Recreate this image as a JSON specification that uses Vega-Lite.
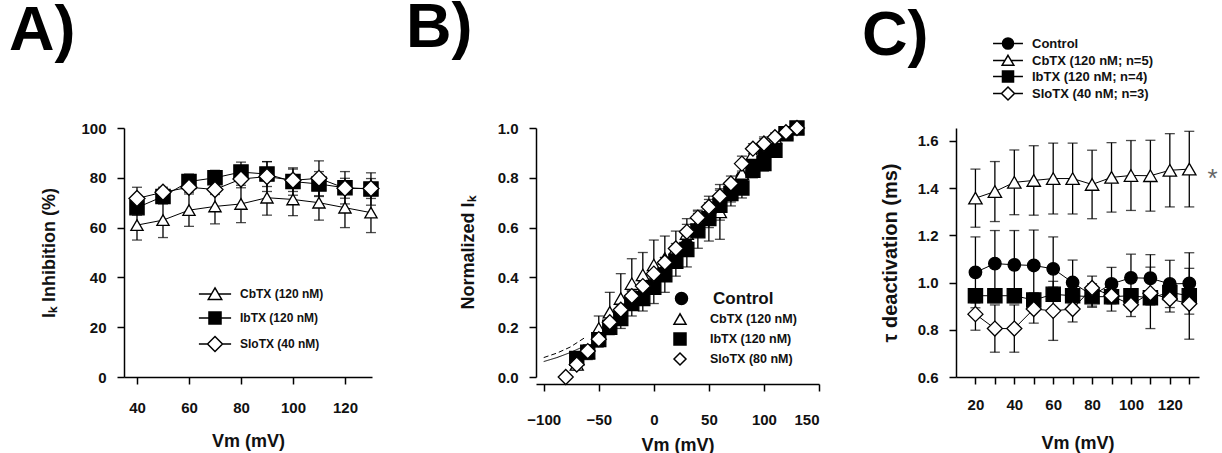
{
  "$schema": "https://vega.github.io/schema/vega-lite/v6.json",
  "autosize": {"type": "none"},
  "padding": {"left": 124, "top": 128, "right": 1098, "bottom": 325},
  "background": "white",
  "config": {
    "font": "Liberation Sans",
    "view": {"stroke": null},
    "axis": {"grid": false, "domainColor": "#000", "domainWidth": 1.5, "tickColor": "#000", "tickWidth": 1.5, "tickSize": 7, "labelFont": "Liberation Sans", "labelFontSize": 15, "labelFontWeight": "bold", "labelColor": "#111", "labelPadding": 11, "titleFont": "Liberation Sans", "titleFontSize": 18, "titleFontWeight": "bold", "titleColor": "#111"},
    "legend": {"labelFont": "Liberation Sans", "labelFontWeight": "bold", "labelColor": "#111", "symbolOpacity": 1},
    "title": {"font": "Liberation Sans", "fontSize": 63, "fontWeight": "bold", "color": "#000", "anchor": "start", "frame": "group", "baseline": "alphabetic"}
  },
  "datasets": {
    "A": [
      {"series": "CbTX (120 nM)", "x": 40, "y": 61, "err": 6},
      {"series": "CbTX (120 nM)", "x": 50, "y": 63, "err": 7},
      {"series": "CbTX (120 nM)", "x": 60, "y": 67, "err": 6.5},
      {"series": "CbTX (120 nM)", "x": 70, "y": 68.5, "err": 7},
      {"series": "CbTX (120 nM)", "x": 80, "y": 69.5, "err": 7.5},
      {"series": "CbTX (120 nM)", "x": 90, "y": 72, "err": 7},
      {"series": "CbTX (120 nM)", "x": 100, "y": 71.3, "err": 6.5},
      {"series": "CbTX (120 nM)", "x": 110, "y": 70, "err": 7},
      {"series": "CbTX (120 nM)", "x": 120, "y": 68, "err": 8},
      {"series": "CbTX (120 nM)", "x": 130, "y": 66, "err": 8},
      {"series": "IbTX (120 nM)", "x": 40, "y": 68, "err": 3},
      {"series": "IbTX (120 nM)", "x": 50, "y": 72.5, "err": 3},
      {"series": "IbTX (120 nM)", "x": 60, "y": 78.5, "err": 3},
      {"series": "IbTX (120 nM)", "x": 70, "y": 80, "err": 3},
      {"series": "IbTX (120 nM)", "x": 80, "y": 82.3, "err": 4},
      {"series": "IbTX (120 nM)", "x": 90, "y": 81.5, "err": 5},
      {"series": "IbTX (120 nM)", "x": 100, "y": 78.5, "err": 5.5},
      {"series": "IbTX (120 nM)", "x": 110, "y": 77.5, "err": 5},
      {"series": "IbTX (120 nM)", "x": 120, "y": 76, "err": 6.5},
      {"series": "IbTX (120 nM)", "x": 130, "y": 75.5, "err": 6.5},
      {"series": "SloTX (40 nM)", "x": 40, "y": 71.7, "err": 4.5},
      {"series": "SloTX (40 nM)", "x": 50, "y": 74.2, "err": 2},
      {"series": "SloTX (40 nM)", "x": 60, "y": 76.2, "err": 2},
      {"series": "SloTX (40 nM)", "x": 70, "y": 75.3, "err": 2},
      {"series": "SloTX (40 nM)", "x": 80, "y": 79.5, "err": 3.5},
      {"series": "SloTX (40 nM)", "x": 90, "y": 80.5, "err": 6},
      {"series": "SloTX (40 nM)", "x": 100, "y": 79, "err": 4.5},
      {"series": "SloTX (40 nM)", "x": 110, "y": 79.8, "err": 7},
      {"series": "SloTX (40 nM)", "x": 120, "y": 75.8, "err": 4},
      {"series": "SloTX (40 nM)", "x": 130, "y": 75.7, "err": 4}
    ],
    "B": [
      {"series": "Control", "x": -70, "y": 0.06, "err": 0.02},
      {"series": "Control", "x": -60, "y": 0.1, "err": 0.02},
      {"series": "Control", "x": -50, "y": 0.16, "err": 0.02},
      {"series": "Control", "x": -40, "y": 0.2, "err": 0.02},
      {"series": "Control", "x": -30, "y": 0.245, "err": 0.02},
      {"series": "Control", "x": -20, "y": 0.3, "err": 0.02},
      {"series": "Control", "x": -10, "y": 0.33, "err": 0.02},
      {"series": "Control", "x": 0, "y": 0.37, "err": 0.02},
      {"series": "Control", "x": 10, "y": 0.42, "err": 0.02},
      {"series": "Control", "x": 20, "y": 0.47, "err": 0.02},
      {"series": "Control", "x": 30, "y": 0.53, "err": 0.02},
      {"series": "Control", "x": 40, "y": 0.59, "err": 0.02},
      {"series": "Control", "x": 50, "y": 0.65, "err": 0.02},
      {"series": "Control", "x": 60, "y": 0.7, "err": 0.02},
      {"series": "Control", "x": 70, "y": 0.75, "err": 0.02},
      {"series": "Control", "x": 80, "y": 0.8, "err": 0.02},
      {"series": "Control", "x": 90, "y": 0.86, "err": 0.02},
      {"series": "Control", "x": 100, "y": 0.9, "err": 0.02},
      {"series": "Control", "x": 110, "y": 0.92, "err": 0.02},
      {"series": "Control", "x": 120, "y": 0.98, "err": 0.01},
      {"series": "Control", "x": 130, "y": 1.0, "err": 0},
      {"series": "CbTX (120 nM)", "x": -70, "y": 0.05, "err": 0.02},
      {"series": "CbTX (120 nM)", "x": -60, "y": 0.1, "err": 0.02},
      {"series": "CbTX (120 nM)", "x": -50, "y": 0.195, "err": 0.05},
      {"series": "CbTX (120 nM)", "x": -40, "y": 0.26, "err": 0.08},
      {"series": "CbTX (120 nM)", "x": -30, "y": 0.315, "err": 0.1},
      {"series": "CbTX (120 nM)", "x": -20, "y": 0.375, "err": 0.1},
      {"series": "CbTX (120 nM)", "x": -10, "y": 0.41, "err": 0.09},
      {"series": "CbTX (120 nM)", "x": 0, "y": 0.45, "err": 0.1},
      {"series": "CbTX (120 nM)", "x": 10, "y": 0.476, "err": 0.09},
      {"series": "CbTX (120 nM)", "x": 20, "y": 0.516, "err": 0.07},
      {"series": "CbTX (120 nM)", "x": 30, "y": 0.576, "err": 0.06},
      {"series": "CbTX (120 nM)", "x": 40, "y": 0.616, "err": 0.05},
      {"series": "CbTX (120 nM)", "x": 50, "y": 0.65, "err": 0.05},
      {"series": "CbTX (120 nM)", "x": 60, "y": 0.663, "err": 0.11},
      {"series": "CbTX (120 nM)", "x": 70, "y": 0.743, "err": 0.04},
      {"series": "CbTX (120 nM)", "x": 80, "y": 0.817, "err": 0.04},
      {"series": "CbTX (120 nM)", "x": 90, "y": 0.897, "err": 0.03},
      {"series": "CbTX (120 nM)", "x": 100, "y": 0.944, "err": 0.02},
      {"series": "CbTX (120 nM)", "x": 110, "y": 0.96, "err": 0.02},
      {"series": "CbTX (120 nM)", "x": 120, "y": 0.98, "err": 0.01},
      {"series": "CbTX (120 nM)", "x": 130, "y": 1.0, "err": 0},
      {"series": "IbTX (120 nM)", "x": -70, "y": 0.075, "err": 0.02},
      {"series": "IbTX (120 nM)", "x": -60, "y": 0.1, "err": 0.03},
      {"series": "IbTX (120 nM)", "x": -50, "y": 0.15, "err": 0.03},
      {"series": "IbTX (120 nM)", "x": -40, "y": 0.2, "err": 0.03},
      {"series": "IbTX (120 nM)", "x": -30, "y": 0.235, "err": 0.04},
      {"series": "IbTX (120 nM)", "x": -20, "y": 0.295, "err": 0.05},
      {"series": "IbTX (120 nM)", "x": -10, "y": 0.315, "err": 0.05},
      {"series": "IbTX (120 nM)", "x": 0, "y": 0.36, "err": 0.065},
      {"series": "IbTX (120 nM)", "x": 10, "y": 0.41, "err": 0.07},
      {"series": "IbTX (120 nM)", "x": 20, "y": 0.465, "err": 0.06},
      {"series": "IbTX (120 nM)", "x": 30, "y": 0.512, "err": 0.07},
      {"series": "IbTX (120 nM)", "x": 40, "y": 0.587, "err": 0.07},
      {"series": "IbTX (120 nM)", "x": 50, "y": 0.636, "err": 0.09},
      {"series": "IbTX (120 nM)", "x": 60, "y": 0.69, "err": 0.06},
      {"series": "IbTX (120 nM)", "x": 70, "y": 0.737, "err": 0.05},
      {"series": "IbTX (120 nM)", "x": 80, "y": 0.759, "err": 0.04},
      {"series": "IbTX (120 nM)", "x": 90, "y": 0.83, "err": 0.03},
      {"series": "IbTX (120 nM)", "x": 100, "y": 0.857, "err": 0.03},
      {"series": "IbTX (120 nM)", "x": 110, "y": 0.91, "err": 0.02},
      {"series": "IbTX (120 nM)", "x": 120, "y": 0.977, "err": 0.01},
      {"series": "IbTX (120 nM)", "x": 130, "y": 1.0, "err": 0},
      {"series": "SloTX (80 nM)", "x": -80, "y": 0.0, "err": 0},
      {"series": "SloTX (80 nM)", "x": -70, "y": 0.05, "err": 0.02},
      {"series": "SloTX (80 nM)", "x": -60, "y": 0.104, "err": 0.02},
      {"series": "SloTX (80 nM)", "x": -50, "y": 0.152, "err": 0.02},
      {"series": "SloTX (80 nM)", "x": -40, "y": 0.22, "err": 0.02},
      {"series": "SloTX (80 nM)", "x": -30, "y": 0.27, "err": 0.02},
      {"series": "SloTX (80 nM)", "x": -20, "y": 0.325, "err": 0.02},
      {"series": "SloTX (80 nM)", "x": -10, "y": 0.365, "err": 0.02},
      {"series": "SloTX (80 nM)", "x": 0, "y": 0.415, "err": 0.02},
      {"series": "SloTX (80 nM)", "x": 10, "y": 0.46, "err": 0.02},
      {"series": "SloTX (80 nM)", "x": 20, "y": 0.516, "err": 0.02},
      {"series": "SloTX (80 nM)", "x": 30, "y": 0.583, "err": 0.03},
      {"series": "SloTX (80 nM)", "x": 40, "y": 0.64, "err": 0.03},
      {"series": "SloTX (80 nM)", "x": 50, "y": 0.683, "err": 0.03},
      {"series": "SloTX (80 nM)", "x": 60, "y": 0.726, "err": 0.03},
      {"series": "SloTX (80 nM)", "x": 70, "y": 0.777, "err": 0.03},
      {"series": "SloTX (80 nM)", "x": 80, "y": 0.857, "err": 0.03},
      {"series": "SloTX (80 nM)", "x": 90, "y": 0.917, "err": 0.02},
      {"series": "SloTX (80 nM)", "x": 100, "y": 0.937, "err": 0.02},
      {"series": "SloTX (80 nM)", "x": 110, "y": 0.963, "err": 0.01},
      {"series": "SloTX (80 nM)", "x": 120, "y": 0.983, "err": 0.01},
      {"series": "SloTX (80 nM)", "x": 130, "y": 1.0, "err": 0}
    ],
    "Bfit": [
      {"fit": "fit1", "x": -100, "y": 0.062},
      {"fit": "fit1", "x": -88, "y": 0.078},
      {"fit": "fit1", "x": -76, "y": 0.098},
      {"fit": "fit1", "x": -64, "y": 0.122},
      {"fit": "fit2", "x": -100, "y": 0.078},
      {"fit": "fit2", "x": -88, "y": 0.096},
      {"fit": "fit2", "x": -76, "y": 0.12},
      {"fit": "fit2", "x": -62, "y": 0.16}
    ],
    "C": [
      {"series": "Control", "x": 20, "y": 1.043, "err": 0.15},
      {"series": "Control", "x": 30, "y": 1.08, "err": 0.14},
      {"series": "Control", "x": 40, "y": 1.075, "err": 0.145},
      {"series": "Control", "x": 50, "y": 1.072, "err": 0.15},
      {"series": "Control", "x": 60, "y": 1.058, "err": 0.135},
      {"series": "Control", "x": 70, "y": 1.0, "err": 0.095},
      {"series": "Control", "x": 80, "y": 0.945, "err": 0.05},
      {"series": "Control", "x": 90, "y": 0.994, "err": 0.07},
      {"series": "Control", "x": 100, "y": 1.02, "err": 0.1},
      {"series": "Control", "x": 110, "y": 1.018, "err": 0.1},
      {"series": "Control", "x": 120, "y": 0.994, "err": 0.1},
      {"series": "Control", "x": 130, "y": 0.996, "err": 0.13},
      {"series": "CbTX (120 nM; n=5)", "x": 20, "y": 1.357, "err": 0.123},
      {"series": "CbTX (120 nM; n=5)", "x": 30, "y": 1.385, "err": 0.127},
      {"series": "CbTX (120 nM; n=5)", "x": 40, "y": 1.424, "err": 0.137},
      {"series": "CbTX (120 nM; n=5)", "x": 50, "y": 1.432, "err": 0.147},
      {"series": "CbTX (120 nM; n=5)", "x": 60, "y": 1.44, "err": 0.15},
      {"series": "CbTX (120 nM; n=5)", "x": 70, "y": 1.44, "err": 0.15},
      {"series": "CbTX (120 nM; n=5)", "x": 80, "y": 1.415, "err": 0.145},
      {"series": "CbTX (120 nM; n=5)", "x": 90, "y": 1.445, "err": 0.147},
      {"series": "CbTX (120 nM; n=5)", "x": 100, "y": 1.453, "err": 0.148},
      {"series": "CbTX (120 nM; n=5)", "x": 110, "y": 1.452, "err": 0.15},
      {"series": "CbTX (120 nM; n=5)", "x": 120, "y": 1.475, "err": 0.155},
      {"series": "CbTX (120 nM; n=5)", "x": 130, "y": 1.48, "err": 0.16},
      {"series": "IbTX (120 nM; n=4)", "x": 20, "y": 0.944, "err": 0.03},
      {"series": "IbTX (120 nM; n=4)", "x": 30, "y": 0.944, "err": 0.03},
      {"series": "IbTX (120 nM; n=4)", "x": 40, "y": 0.944, "err": 0.03},
      {"series": "IbTX (120 nM; n=4)", "x": 50, "y": 0.926, "err": 0.03},
      {"series": "IbTX (120 nM; n=4)", "x": 60, "y": 0.95, "err": 0.03},
      {"series": "IbTX (120 nM; n=4)", "x": 70, "y": 0.944, "err": 0.03},
      {"series": "IbTX (120 nM; n=4)", "x": 80, "y": 0.94, "err": 0.04},
      {"series": "IbTX (120 nM; n=4)", "x": 90, "y": 0.94, "err": 0.03},
      {"series": "IbTX (120 nM; n=4)", "x": 100, "y": 0.944, "err": 0.03},
      {"series": "IbTX (120 nM; n=4)", "x": 110, "y": 0.935, "err": 0.13},
      {"series": "IbTX (120 nM; n=4)", "x": 120, "y": 0.958, "err": 0.04},
      {"series": "IbTX (120 nM; n=4)", "x": 130, "y": 0.944, "err": 0.03},
      {"series": "SloTX (40 nM; n=3)", "x": 20, "y": 0.866, "err": 0.068},
      {"series": "SloTX (40 nM; n=3)", "x": 30, "y": 0.805, "err": 0.1},
      {"series": "SloTX (40 nM; n=3)", "x": 40, "y": 0.805, "err": 0.1},
      {"series": "SloTX (40 nM; n=3)", "x": 50, "y": 0.888, "err": 0.06},
      {"series": "SloTX (40 nM; n=3)", "x": 60, "y": 0.88, "err": 0.125},
      {"series": "SloTX (40 nM; n=3)", "x": 70, "y": 0.888, "err": 0.055},
      {"series": "SloTX (40 nM; n=3)", "x": 80, "y": 0.977, "err": 0.05},
      {"series": "SloTX (40 nM; n=3)", "x": 90, "y": 0.944, "err": 0.065},
      {"series": "SloTX (40 nM; n=3)", "x": 100, "y": 0.906, "err": 0.05},
      {"series": "SloTX (40 nM; n=3)", "x": 110, "y": 0.955, "err": 0.05},
      {"series": "SloTX (40 nM; n=3)", "x": 120, "y": 0.93, "err": 0.055},
      {"series": "SloTX (40 nM; n=3)", "x": 130, "y": 0.91, "err": 0.15}
    ],
    "Cstar": [
      {"x": 142, "y": 1.475, "label": "*"}
    ]
  },
  "spacing": 164,
  "bounds": "flush",
  "resolve": {"scale": {"x": "independent", "y": "independent", "shape": "independent", "fill": "independent", "size": "independent"}, "legend": {"shape": "independent", "fill": "independent"}},
  "hconcat": [
    {
      "width": 248,
      "height": 249,
      "title": {"text": "A)", "dx": -115, "dy": -54},
      "data": {"name": "A"},
      "resolve": {"scale": {"shape": "independent", "fill": "independent", "size": "independent"}, "legend": {"shape": "independent", "fill": "independent"}},
      "encoding": {
        "x": {"field": "x", "type": "quantitative", "scale": {"domain": [35, 130.4], "nice": false, "zero": false}, "axis": {"title": "Vm (mV)", "values": [40, 60, 80, 100, 120], "labelPadding": 16, "titlePadding": 17}},
        "y": {"field": "y", "type": "quantitative", "scale": {"domain": [0, 100], "nice": false}, "axis": {"title": "Iₖ Inhibition (%)", "values": [0, 20, 40, 60, 80, 100], "titlePadding": 22}}
      },
      "layer": [
        {"mark": {"type": "errorbar", "ticks": {"size": 10}, "color": "#000", "thickness": 1.3}, "encoding": {"yError": {"field": "err"}, "detail": {"field": "series"}}},
        {"mark": {"type": "line", "color": "#000", "strokeWidth": 1}, "encoding": {"detail": {"field": "series"}}},
        {"mark": {"type": "point", "stroke": "#000", "strokeWidth": 1.3, "opacity": 1},
         "encoding": {
           "shape": {"field": "series", "type": "nominal", "scale": {"domain": ["CbTX (120 nM)", "IbTX (120 nM)", "SloTX (40 nM)"], "range": ["triangle-up", "square", "diamond"]}, "legend": null},
           "fill": {"field": "series", "type": "nominal", "scale": {"domain": ["CbTX (120 nM)", "IbTX (120 nM)", "SloTX (40 nM)"], "range": ["#fff", "#000", "#fff"]}, "legend": null},
           "size": {"field": "series", "type": "nominal", "scale": {"domain": ["SloTX (40 nM)", "IbTX (120 nM)", "CbTX (120 nM)"], "range": [256, 150, 196]}, "legend": null}
         }},
        {"mark": {"type": "point", "stroke": "#000", "strokeWidth": 1.3, "opacity": 0},
         "encoding": {
           "shape": {"field": "series", "type": "nominal", "title": null, "scale": {"domain": ["CbTX (120 nM)", "IbTX (120 nM)", "SloTX (40 nM)"], "range": ["M-2.3,0H-0.5M0.5,0H2.3M0,-0.87L0.96,0.78L-0.96,0.78Z", "M-2.3,0H-0.86M0.86,0H2.3M-0.86,-0.86H0.86V0.86H-0.86Z", "M-2.3,0H-1.07M1.07,0H2.3M0,-1.07L1.07,0L0,1.07L-1.07,0Z"]},
             "legend": {"orient": "none", "legendX": 83, "legendY": 158, "symbolSize": 196, "symbolOpacity": 1, "labelFontSize": 12, "rowPadding": 5, "labelOffset": 17,
               "encode": {"symbols": {"stroke": {"value": "#000"}, "strokeWidth": {"value": 1.3}}}}},
           "fill": {"field": "series", "type": "nominal", "title": null, "scale": {"domain": ["CbTX (120 nM)", "IbTX (120 nM)", "SloTX (40 nM)"], "range": ["#fff", "#000", "#fff"]},
             "legend": {"orient": "none", "legendX": 83, "legendY": 158, "symbolSize": 196, "symbolOpacity": 1, "labelFontSize": 12, "rowPadding": 5, "labelOffset": 17,
               "encode": {"symbols": {"stroke": {"value": "#000"}, "strokeWidth": {"value": 1.3}}}}}
         }}
      ]
    },
    {
      "spacing": 137,
      "bounds": "flush",
      "resolve": {"scale": {"x": "independent", "y": "independent", "shape": "independent", "fill": "independent", "size": "independent"}, "legend": {"shape": "independent", "fill": "independent"}},
      "hconcat": [
        {
          "width": 283,
          "height": 249,
          "title": {"text": "B)", "dx": -130, "dy": -54},
          "resolve": {"scale": {"shape": "independent", "fill": "independent", "size": "independent"}, "legend": {"shape": "independent", "fill": "independent"}},
          "encoding": {
            "x": {"field": "x", "type": "quantitative", "scale": {"domain": [-107, 150], "nice": false, "zero": false}, "axis": {"title": "Vm (mV)", "values": [-100, -50, 0, 50, 100, 150], "offset": 7, "labelPadding": 21, "titlePadding": 9}},
            "y": {"field": "y", "type": "quantitative", "scale": {"domain": [0, 1], "nice": false}, "axis": {"title": "Normalized Iₖ", "values": [0, 0.2, 0.4, 0.6, 0.8, 1.0], "format": ".1f", "titlePadding": 20}}
          },
          "layer": [
            {"data": {"name": "Bfit"}, "mark": {"type": "line", "color": "#000", "strokeWidth": 1}, "encoding": {"detail": {"field": "fit"}, "strokeDash": {"field": "fit", "type": "nominal", "scale": {"domain": ["fit1", "fit2"], "range": [[1, 0], [5, 3]]}, "legend": null}}},
            {"data": {"name": "B"}, "mark": {"type": "errorbar", "ticks": {"size": 10}, "color": "#000", "thickness": 1.3}, "encoding": {"yError": {"field": "err"}, "detail": {"field": "series"}}},
            {"data": {"name": "B"}, "mark": {"type": "point", "stroke": "#000", "strokeWidth": 1.3, "opacity": 1},
             "encoding": {
               "shape": {"field": "series", "type": "nominal", "scale": {"domain": ["Control", "CbTX (120 nM)", "IbTX (120 nM)", "SloTX (80 nM)"], "range": ["circle", "triangle-up", "square", "diamond"]}, "legend": null},
               "fill": {"field": "series", "type": "nominal", "scale": {"domain": ["Control", "CbTX (120 nM)", "IbTX (120 nM)", "SloTX (80 nM)"], "range": ["#000", "#fff", "#000", "#fff"]}, "legend": null},
               "size": {"field": "series", "type": "nominal", "scale": {"domain": ["SloTX (80 nM)", "IbTX (120 nM)", "CbTX (120 nM)", "Control"], "range": [225, 144, 169, 100]}, "legend": null}
             }},
            {"data": {"name": "B"}, "transform": [{"filter": "datum.series === 'Control'"}], "mark": {"type": "point", "stroke": "#000", "strokeWidth": 1.3, "opacity": 0},
             "encoding": {
               "shape": {"field": "series", "type": "nominal", "title": null, "scale": {"domain": ["Control"], "range": ["circle"]},
                 "legend": {"orient": "none", "legendX": 137, "legendY": 162, "symbolSize": 144, "symbolOpacity": 1, "labelFontSize": 17, "labelOffset": 23, "encode": {"symbols": {"stroke": {"value": "#000"}, "strokeWidth": {"value": 1.3}}}}},
               "fill": {"field": "series", "type": "nominal", "title": null, "scale": {"domain": ["Control"], "range": ["#000"]},
                 "legend": {"orient": "none", "legendX": 137, "legendY": 162, "symbolSize": 144, "symbolOpacity": 1, "labelFontSize": 17, "labelOffset": 23, "encode": {"symbols": {"stroke": {"value": "#000"}, "strokeWidth": {"value": 1.3}}}}}
             }},
            {"data": {"name": "B"}, "transform": [{"filter": "datum.series !== 'Control'"}], "mark": {"type": "point", "stroke": "#000", "strokeWidth": 1.3, "opacity": 0},
             "encoding": {
               "shape": {"field": "series", "type": "nominal", "title": null, "scale": {"domain": ["CbTX (120 nM)", "IbTX (120 nM)", "SloTX (80 nM)"], "range": ["triangle-up", "square", "diamond"]},
                 "legend": {"orient": "none", "legendX": 137, "legendY": 184, "symbolSize": 144, "symbolOpacity": 1, "labelFontSize": 12.5, "rowPadding": 2, "labelOffset": 23, "encode": {"symbols": {"stroke": {"value": "#000"}, "strokeWidth": {"value": 1.3}}}}},
               "fill": {"field": "series", "type": "nominal", "title": null, "scale": {"domain": ["CbTX (120 nM)", "IbTX (120 nM)", "SloTX (80 nM)"], "range": ["#fff", "#000", "#fff"]},
                 "legend": {"orient": "none", "legendX": 137, "legendY": 184, "symbolSize": 144, "symbolOpacity": 1, "labelFontSize": 12.5, "rowPadding": 2, "labelOffset": 23, "encode": {"symbols": {"stroke": {"value": "#000"}, "strokeWidth": {"value": 1.3}}}}}
             }}
          ]
        },
        {
          "width": 243,
          "height": 249,
          "title": {"text": "C)", "dx": -94, "dy": 36},
          "resolve": {"scale": {"shape": "independent", "fill": "independent", "size": "independent"}, "legend": {"shape": "independent", "fill": "independent"}},
          "encoding": {
            "x": {"field": "x", "type": "quantitative", "scale": {"domain": [10, 135], "nice": false, "zero": false}, "axis": {"title": "Vm (mV)", "values": [20, 30, 40, 50, 60, 70, 80, 90, 100, 110, 120, 130], "labelExpr": "datum.value % 20 === 0 ? datum.label : ''", "labelPadding": 13, "titlePadding": 22}},
            "y": {"field": "y", "type": "quantitative", "scale": {"domain": [0.6, 1.654], "nice": false, "zero": false}, "axis": {"title": "τ deactivation (ms)", "titleFontSize": 20, "values": [0.6, 0.8, 1.0, 1.2, 1.4, 1.6], "format": ".1f", "titlePadding": 17}}
          },
          "layer": [
            {"data": {"name": "C"}, "mark": {"type": "errorbar", "ticks": {"size": 10}, "color": "#000", "thickness": 1.3}, "encoding": {"yError": {"field": "err"}, "detail": {"field": "series"}}},
            {"data": {"name": "C"}, "mark": {"type": "line", "color": "#000", "strokeWidth": 1}, "encoding": {"detail": {"field": "series"}}},
            {"data": {"name": "C"}, "mark": {"type": "point", "stroke": "#000", "strokeWidth": 1.3, "opacity": 1},
             "encoding": {
               "shape": {"field": "series", "type": "nominal", "scale": {"domain": ["Control", "CbTX (120 nM; n=5)", "IbTX (120 nM; n=4)", "SloTX (40 nM; n=3)"], "range": ["circle", "triangle-up", "square", "diamond"]}, "legend": null},
               "fill": {"field": "series", "type": "nominal", "scale": {"domain": ["Control", "CbTX (120 nM; n=5)", "IbTX (120 nM; n=4)", "SloTX (40 nM; n=3)"], "range": ["#000", "#fff", "#000", "#fff"]}, "legend": null},
               "size": {"field": "series", "type": "nominal", "scale": {"domain": ["SloTX (40 nM; n=3)", "IbTX (120 nM; n=4)", "CbTX (120 nM; n=5)", "Control"], "range": [225, 156, 169, 113]}, "legend": null}
             }},
            {"data": {"name": "C"}, "mark": {"type": "point", "stroke": "#000", "strokeWidth": 1.3, "opacity": 0},
             "encoding": {
               "shape": {"field": "series", "type": "nominal", "title": null, "scale": {"domain": ["Control", "CbTX (120 nM; n=5)", "IbTX (120 nM; n=4)", "SloTX (40 nM; n=3)"], "range": ["M-2.3,0H-0.85M0.85,0H2.3M0.85,0A0.85,0.85 0 1,1 -0.85,0A0.85,0.85 0 1,1 0.85,0Z", "M-2.3,0H-0.47M0.47,0H2.3M0,-0.8L0.9,0.72L-0.9,0.72Z", "M-2.3,0H-0.85M0.85,0H2.3M-0.85,-0.85H0.85V0.85H-0.85Z", "M-2.3,0H-1.0M1.0,0H2.3M0,-1.0L1.0,0L0,1.0L-1.0,0Z"]},
                 "legend": {"orient": "none", "legendX": 44.5, "legendY": -92, "symbolSize": 169, "symbolOpacity": 1, "labelFontSize": 13, "rowPadding": -8, "labelOffset": 16.5,
                   "encode": {"symbols": {"stroke": {"value": "#000"}, "strokeWidth": {"value": 1.3}}}}},
               "fill": {"field": "series", "type": "nominal", "title": null, "scale": {"domain": ["Control", "CbTX (120 nM; n=5)", "IbTX (120 nM; n=4)", "SloTX (40 nM; n=3)"], "range": ["#000", "#fff", "#000", "#fff"]},
                 "legend": {"orient": "none", "legendX": 44.5, "legendY": -92, "symbolSize": 169, "symbolOpacity": 1, "labelFontSize": 13, "rowPadding": -8, "labelOffset": 16.5,
                   "encode": {"symbols": {"stroke": {"value": "#000"}, "strokeWidth": {"value": 1.3}}}}}
             }},
            {"data": {"name": "Cstar"}, "mark": {"type": "text", "fontSize": 26, "color": "#666", "dy": 9, "clip": false}, "encoding": {"text": {"field": "label"}}}
          ]
        }
      ]
    }
  ]
}
